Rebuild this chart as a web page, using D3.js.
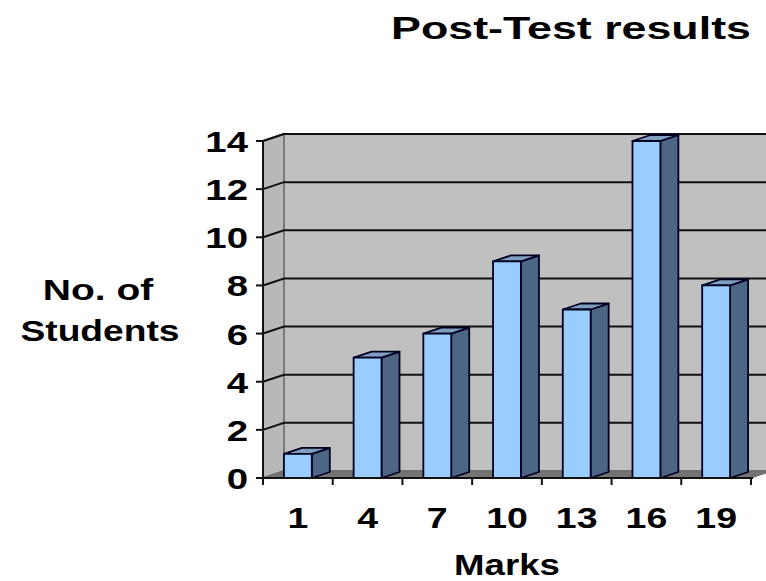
<!DOCTYPE html>
<html>
<head>
<meta charset="utf-8">
<script src="https://cdn.jsdelivr.net/npm/d3@7"></script>
<style>
	body { margin: 0; background: #fff; }
	svg { display: block; }
	text { font-family: "Liberation Sans", Arial, sans-serif; font-weight: bold; fill: #000; }
</style>
</head>
<body>
<div id="chart"></div>
<script>
var marks = ["1", "4", "7", "10", "13", "16", "19"];
var students = [1, 5, 6, 9, 7, 14, 8];
var yTicks = [0, 2, 4, 6, 8, 10, 12, 14];

var width = 766,
		height = 581;

// plot box (front face) and 3d depth
var plotLeft = 263, plotRight = 751, plotBottom = 478, plotTop = 141;
var depthX = 21, depthY = -7,
		barDX = 18, barDY = -6;

var svg = d3.select("#chart").append("svg")
	.attr("width", width)
	.attr("height", height);

var x = d3.scaleBand()
		.domain(marks)
		.range([plotLeft, plotRight])
		.paddingInner(0.6)
		.paddingOuter(0.3),
		y = d3.scaleLinear()
		.domain([0, 14])
		.range([plotBottom, plotTop]);

function poly(pts) {
	return "M" + pts.map(function(p) { return p[0] + "," + p[1]; }).join("L") + "Z";
}

// stretched text, the original is wide
function label(g, px, py, str, size, anchor, sx) {
	g.append("g")
			.attr("transform", "translate(" + px + "," + py + ") scale(" + sx + ",1)")
		.append("text")
			.attr("text-anchor", anchor)
			.style("font-size", size + "px")
			.text(str);
}

var walls = svg.append("g").attr("class", "walls");

// back wall
walls.append("path")
	.attr("d", poly([[plotLeft + depthX, plotTop + depthY], [plotRight + depthX, plotTop + depthY], [plotRight + depthX, plotBottom + depthY], [plotLeft + depthX, plotBottom + depthY]]))
	.attr("fill", "#c0c0c0")
	.attr("stroke", "#7a7a7a")
	.attr("stroke-width", 2);

// side wall
walls.append("path")
	.attr("d", poly([[plotLeft, plotTop], [plotLeft + depthX, plotTop + depthY], [plotLeft + depthX, plotBottom + depthY], [plotLeft, plotBottom]]))
	.attr("fill", "#b8b8b8")
	.attr("stroke", "#7a7a7a")
	.attr("stroke-width", 2);

// floor
walls.append("path")
	.attr("d", poly([[plotLeft, plotBottom], [plotLeft + depthX, plotBottom + depthY], [plotRight + depthX, plotBottom + depthY], [plotRight, plotBottom]]))
	.attr("fill", "#747474")
	.attr("stroke", "#6a6a6a")
	.attr("stroke-width", 1);

// gridlines
var grid = svg.append("g").attr("class", "grid");
yTicks.filter(function(d) { return d > 0; }).forEach(function(d) {
	grid.append("path")
		.attr("d", "M" + plotLeft + "," + y(d) + "L" + (plotLeft + depthX) + "," + (y(d) + depthY) + "L" + (plotRight + depthX) + "," + (y(d) + depthY))
		.attr("fill", "none")
		.attr("stroke", "#111")
		.attr("stroke-width", 2);
});

// bars
var bars = svg.append("g").attr("class", "bars")
	.selectAll("g")
	.data(marks)
	.enter().append("g");

bars.each(function(m, i) {
	var g = d3.select(this),
			x0 = x(m),
			x1 = x0 + x.bandwidth(),
			y0 = y(0),
			y1 = y(students[i]);
	// side
	g.append("path")
		.attr("d", poly([[x1, y1], [x1 + barDX, y1 + barDY], [x1 + barDX, y0 + barDY], [x1, y0]]))
		.attr("fill", "#4d6685");
	// top
	g.append("path")
		.attr("d", poly([[x0, y1], [x0 + barDX, y1 + barDY], [x1 + barDX, y1 + barDY], [x1, y1]]))
		.attr("fill", "#819dc0");
	// front
	g.append("rect")
		.attr("x", x0)
		.attr("y", y1)
		.attr("width", x.bandwidth())
		.attr("height", y0 - y1)
		.attr("fill", "#99ccff");
	g.selectAll("path, rect")
		.attr("stroke", "#000022")
		.attr("stroke-width", 1.8)
		.attr("stroke-linejoin", "round");
});

// axes
var axes = svg.append("g").attr("class", "axes")
	.attr("stroke", "#111")
	.attr("stroke-width", 2);

axes.append("line")
	.attr("x1", plotLeft).attr("x2", plotLeft)
	.attr("y1", plotTop).attr("y2", plotBottom + 1);
axes.append("line")
	.attr("x1", plotLeft - 1).attr("x2", plotRight + 2)
	.attr("y1", plotBottom).attr("y2", plotBottom);

yTicks.forEach(function(d) {
	axes.append("line")
		.attr("x1", plotLeft - 7).attr("x2", plotLeft)
		.attr("y1", y(d)).attr("y2", y(d));
});
var step = x.step();
for (var k = 0; k <= marks.length; k++) {
	axes.append("line")
		.attr("x1", plotLeft + k * step).attr("x2", plotLeft + k * step)
		.attr("y1", plotBottom).attr("y2", plotBottom + 7);
}

// labels
var texts = svg.append("g").attr("class", "labels");

yTicks.forEach(function(d) {
	label(texts, 248, y(d) + 11, d, 30, "end", 1.28);
});
marks.forEach(function(m) {
	label(texts, x(m) + x.bandwidth() / 2, 528, m, 30, "middle", 1.25);
});

label(texts, 571, 39, "Post-Test results", 32, "middle", 1.4);
label(texts, 98, 300, "No. of", 30, "middle", 1.3);
label(texts, 100, 341, "Students", 30, "middle", 1.24);
label(texts, 507, 575, "Marks", 30, "middle", 1.22);
</script>
</body>
</html>
